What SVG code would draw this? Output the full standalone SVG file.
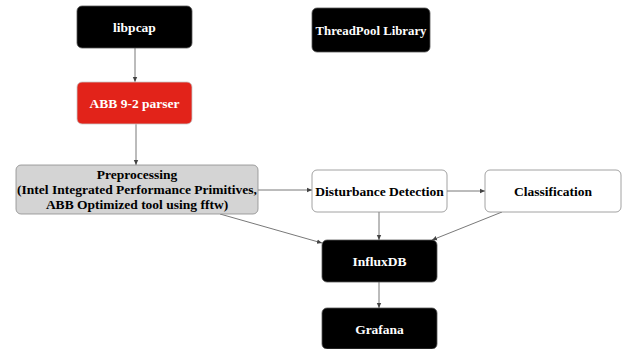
<svg xmlns="http://www.w3.org/2000/svg" width="622" height="349" viewBox="0 0 622 349">
<style>
.t{font-family:"Liberation Serif","DejaVu Serif",serif;font-weight:bold;font-size:13.5px;text-anchor:middle}
.w{fill:#ffffff}
.k{fill:#000000}
.dark{fill:#000000;stroke:#555;stroke-width:0.8}
.red{fill:#e2231a;stroke:#c8c8c8;stroke-width:0.8}
.grey{fill:#d4d4d4;stroke:#8a8a8a;stroke-width:0.8}
.white{fill:#ffffff;stroke:#8a8a8a;stroke-width:0.8}
.c{stroke:#555;stroke-width:0.8;fill:none;marker-end:url(#ah)}
</style>
<defs>
<marker id="ah" markerWidth="6" markerHeight="6" refX="5" refY="3" orient="auto" markerUnits="userSpaceOnUse">
<path d="M0,0.8 L5,3 L0,5.2 Z" fill="#444"/>
</marker>
</defs>
<rect width="622" height="349" fill="#ffffff"/>
<g id="connectors">
<line class="c" x1="135" y1="48" x2="135" y2="82"/>
<line class="c" x1="136" y1="124" x2="136" y2="165"/>
<line class="c" x1="258" y1="190" x2="312" y2="190"/>
<line class="c" x1="447" y1="191" x2="485" y2="191"/>
<line class="c" x1="379" y1="212" x2="379" y2="240"/>
<line class="c" x1="502" y1="212" x2="432" y2="240"/>
<line class="c" x1="220" y1="214" x2="322" y2="243"/>
<line class="c" x1="379" y1="282" x2="379" y2="308"/>
</g>
<g id="libpcap">
<rect class="dark" x="77" y="6" width="115" height="42" rx="5"/>
<text class="t w" x="134.5" y="31.5">libpcap</text>
</g>
<g id="threadpool">
<rect class="dark" x="312" y="8" width="118" height="44" rx="5"/>
<text class="t w" x="371" y="34.5" style="font-size:12.8px">ThreadPool Library</text>
</g>
<g id="parser">
<rect class="red" x="77" y="82" width="115" height="42" rx="5"/>
<text class="t w" x="134.5" y="107.5">ABB 9-2 parser</text>
</g>
<g id="preprocessing">
<rect class="grey" x="16" y="165" width="242" height="49" rx="5"/>
<text class="t k" x="137" y="179">Preprocessing</text>
<text class="t k" x="137" y="194">(Intel Integrated Performance Primitives,</text>
<text class="t k" x="137" y="209">ABB Optimized tool using fftw)</text>
</g>
<g id="disturbance">
<rect class="white" x="312" y="170" width="135" height="42" rx="5"/>
<text class="t k" x="379.5" y="195.5">Disturbance Detection</text>
</g>
<g id="classification">
<rect class="white" x="485" y="170" width="136" height="42" rx="5"/>
<text class="t k" x="553" y="195.5">Classification</text>
</g>
<g id="influxdb">
<rect class="dark" x="322" y="240" width="115" height="42" rx="5"/>
<text class="t w" x="379.5" y="266">InfluxDB</text>
</g>
<g id="grafana">
<rect class="dark" x="322" y="308" width="115" height="41" rx="5"/>
<text class="t w" x="379.5" y="334">Grafana</text>
</g>
</svg>
